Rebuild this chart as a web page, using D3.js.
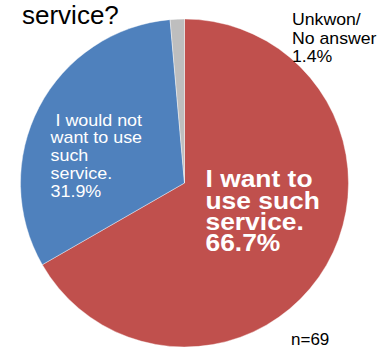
<!DOCTYPE html>
<html>
<head>
<meta charset="utf-8">
<script src="https://cdn.jsdelivr.net/npm/d3@7"></script>
<style>
  html, body { margin: 0; padding: 0; background: #fff; }
  svg { display: block; font-family: "Liberation Sans", Arial, sans-serif; }
</style>
</head>
<body>
<svg id="chart" width="380" height="347"></svg>
<script>
// Survey answers, clockwise from 12 o'clock
const categories = ["I want to use such service.", "I would not want to use such service.", "Unkwon/ No answer"];
const values = [66.7, 31.9, 1.4];
const colors = ["#C0504D", "#4F81BD", "#BEBEBE"];
const labelLines = [
  ["I want to", "use such", "service."],
  [" I would not", "want to use", "such", "service."],
  ["Unkwon/", "No answer"]
];
const titleText = "service?";
const sampleNote = "n=69";

const W = 380, H = 347;
const cx = 184.5, cy = 183, R = 164;

const svg = d3.select("#chart");

const pie = d3.pie().sort(null).value(d => d.value);
const arc = d3.arc().innerRadius(0).outerRadius(R);
const data = categories.map((c, i) => ({ cat: c, value: values[i], color: colors[i], lines: labelLines[i] }));
const arcs = pie(data);

const g = svg.append("g").attr("transform", `translate(${cx},${cy})`);
g.selectAll("path.slice")
  .data(arcs)
  .enter().append("path")
  .attr("class", "slice")
  .attr("d", arc)
  .attr("fill", d => d.data.color)
  .attr("stroke", "#fff")
  .attr("stroke-width", 0.4);

// Label styling per slice: placement relative to the pie centre
const labelStyle = [
  { dx: 21, dy: 4, size: 24, weight: "bold", fill: "#fff", lead: 21.5, sx: 1.1 },
  { dx: -134, dy: -57.5, size: 16, weight: "normal", fill: "#fff", lead: 18, sx: 1.12 },
  { dx: 107.5, dy: -158, size: 17, weight: "normal", fill: "#000", lead: 18.7, sx: 1.04 }
];

arcs.forEach((a, i) => {
  const st = labelStyle[i];
  const lines = a.data.lines.concat([a.data.value.toFixed(1) + "%"]);
  const lg = svg.append("g")
    .attr("transform", `translate(${cx + st.dx},${cy + st.dy}) scale(${st.sx},1)`);
  lg.selectAll("text")
    .data(lines)
    .enter().append("text")
    .attr("x", 0)
    .attr("y", (d, j) => j * st.lead)
    .attr("font-size", st.size)
    .attr("font-weight", st.weight)
    .attr("fill", st.fill)
    .attr("xml:space", "preserve")
    .style("white-space", "pre")
    .text(d => d);
});

svg.append("text")
  .attr("x", 22)
  .attr("y", 24)
  .attr("font-size", 26)
  .attr("fill", "#000")
  .text(titleText);

svg.append("text")
  .attr("x", 291)
  .attr("y", 345)
  .attr("font-size", 17)
  .attr("fill", "#000")
  .text(sampleNote);
</script>
</body>
</html>
